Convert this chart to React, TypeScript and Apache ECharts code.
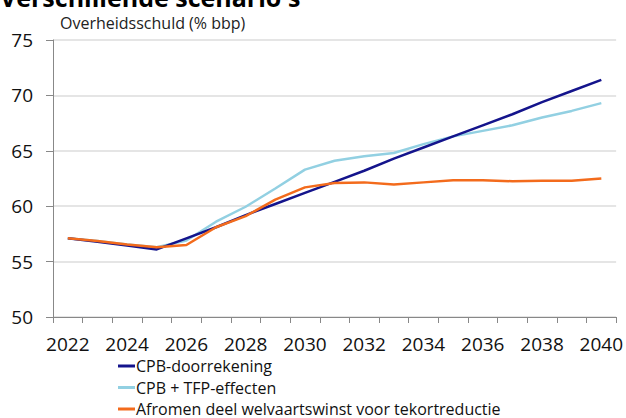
import React, { useEffect, useRef } from "react";
import * as echarts from "echarts";

const years = ["2022","2023","2024","2025","2026","2027","2028","2029","2030","2031","2032","2033","2034","2035","2036","2037","2038","2039","2040"];
const cpb = [57.1, 56.8, 56.45, 56.1, 57.1, 58.1, 59.2, 60.2, 61.2, 62.2, 63.2, 64.3, 65.3, 66.3, 67.3, 68.3, 69.4, 70.4, 71.4];
const cpbTfp = [57.1, 56.85, 56.55, 56.3, 56.9, 58.6, 59.95, 61.6, 63.3, 64.1, 64.5, 64.8, 65.6, 66.3, 66.8, 67.3, 68.0, 68.6, 69.3];
const afromen = [57.1, 56.85, 56.55, 56.3, 56.5, 58.1, 59.1, 60.6, 61.7, 62.1, 62.15, 61.95, 62.15, 62.35, 62.35, 62.25, 62.3, 62.3, 62.5];
const seriesNames = ["CPB-doorrekening", "CPB + TFP-effecten", "Afromen deel welvaartswinst voor tekortreductie"];
const colors = ["#14148c", "#92d0e2", "#f36b1c"];
const yTicks = { min: 50, max: 75, interval: 5 };
const title = "Verschillende scenario's";
const subtitle = "Overheidsschuld (% bbp)";

export default function App() {
  const ref = useRef<HTMLDivElement>(null);
  useEffect(() => {
    if (!ref.current) return;
    const chart = echarts.init(ref.current, null, { renderer: "svg" });
    const font = "'Open Sans', sans-serif";
    const data = [cpb, cpbTfp, afromen];
    chart.setOption({
      animation: false,
      backgroundColor: "#ffffff",
      textStyle: { fontFamily: font },
      grid: { left: 53, right: 8, top: 40, bottom: 101, containLabel: false },
      graphic: [
        { type: "text", left: 0, top: -16, style: { text: title, font: "bold 25px " + font, fill: "#000", lineHeight: 25 } },
        { type: "text", left: 60, top: 14, style: { text: subtitle, font: "16px " + font, fill: "#222", lineHeight: 18 } },
      ],
      legend: seriesNames.map((n, i) => ({
        orient: "vertical",
        left: 118,
        top: 358 + i * 21.5,
        itemWidth: 17,
        itemHeight: 3,
        icon: "rect",
        padding: 0,
        textStyle: { fontFamily: font, fontSize: 16, color: "#111", padding: [0, 0, 0, -4] },
        data: [n],
      })),
      xAxis: {
        type: "category",
        data: years,
        boundaryGap: true,
        axisLine: { lineStyle: { color: "#888", width: 1 } },
        axisTick: { show: true, alignWithLabel: false, interval: 0, length: 6, lineStyle: { color: "#888" } },
        axisLabel: { interval: 1, fontSize: 19, color: "#111", margin: 17, fontFamily: font },
        splitLine: { show: false },
      },
      yAxis: {
        type: "value",
        min: yTicks.min,
        max: yTicks.max,
        interval: yTicks.interval,
        axisLine: { show: true, lineStyle: { color: "#888", width: 1 } },
        axisTick: { show: true, inside: false, length: 7, lineStyle: { color: "#888" } },
        axisLabel: { fontSize: 19, color: "#111", margin: 20, fontFamily: font },
        splitLine: { show: true, lineStyle: { color: "#dcdcdc", width: 1.5 } },
      },
      series: data.map((d, i) => ({
        name: seriesNames[i],
        type: "line",
        data: d,
        symbol: "none",
        lineStyle: { color: colors[i], width: 2.5 },
        itemStyle: { color: colors[i] },
        z: i === 2 ? 4 : i === 0 ? 3 : 2,
      })),
    });
    return () => chart.dispose();
  }, []);
  return <div ref={ref} style={{ width: 626, height: 418, position: "absolute", left: 0, top: 0 }} />;
}
